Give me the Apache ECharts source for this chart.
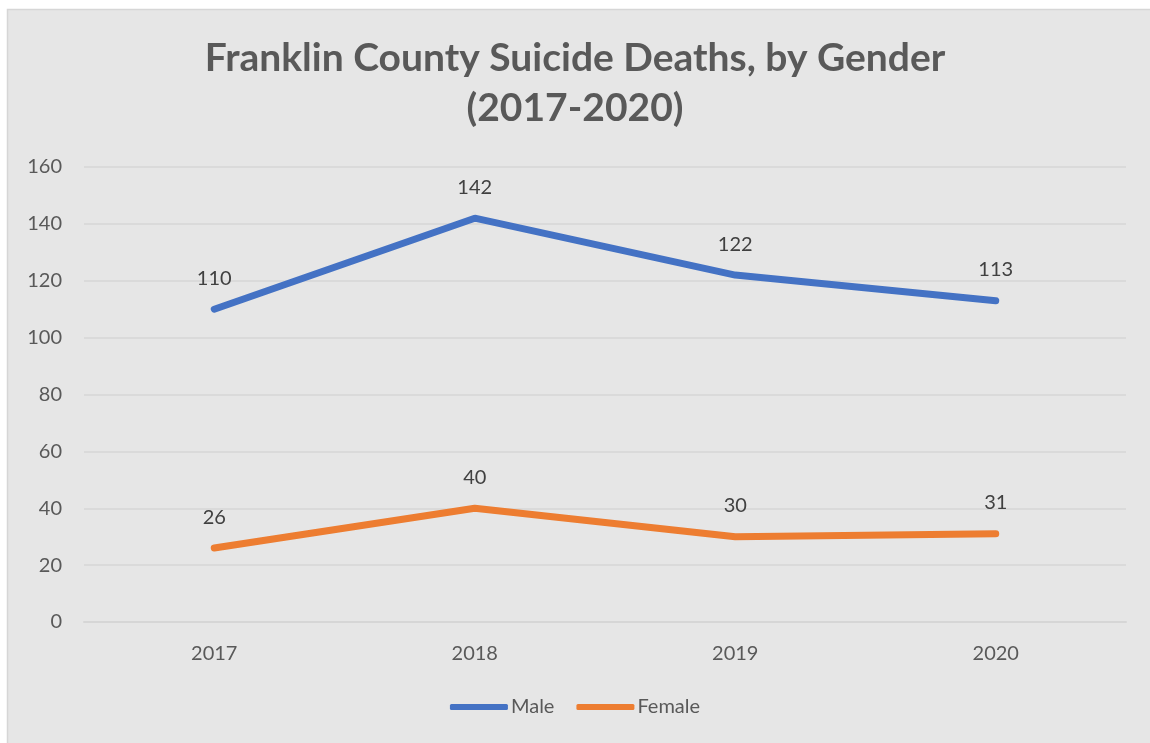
<!DOCTYPE html>
<html><head><meta charset="utf-8">
<script src="https://cdn.jsdelivr.net/npm/echarts@6/dist/echarts.min.js"></script>
<style>html,body{margin:0;padding:0;background:#fff;}#c{width:1150px;height:743px;}</style>
</head><body><div id="c"></div>
<script>
const years = ['2017','2018','2019','2020'];
const male = [110, 142, 122, 113];
const female = [26, 40, 30, 31];
const yTicks = [0, 20, 40, 60, 80, 100, 120, 140, 160];

const chart = echarts.init(document.getElementById('c'));
const font = 'Lato, "Open Sans", sans-serif';
const lbl = { show: true, position: 'top', distance: 21, fontFamily: font, fontSize: 20, color: '#404040' };
chart.setOption({
  backgroundColor: '#ffffff',
  animation: false,
  graphic: [{
    type: 'rect', z: -10, silent: true,
    shape: { x: 7.5, y: 9.5, width: 1160, height: 760 },
    style: { fill: '#e6e6e6', stroke: '#d6d6d6', lineWidth: 1.5 }
  }],
  title: {
    text: 'Franklin County Suicide Deaths, by Gender\n(2017-2020)',
    left: 'center', top: 28,
    textStyle: { fontFamily: font, fontSize: 39, fontWeight: 'bold', color: '#595959', lineHeight: 50 }
  },
  legend: {
    bottom: 21, left: 'center',
    itemWidth: 58, itemHeight: 6, itemGap: 22,
    textStyle: { fontFamily: font, fontSize: 20, color: '#595959', padding: [0, 0, 0, -2] },
    data: [
      { name: 'Male', icon: 'roundRect' },
      { name: 'Female', icon: 'roundRect' }
    ]
  },
  grid: { left: 84, right: 24, top: 167, bottom: 121 },
  xAxis: {
    type: 'category', data: years, boundaryGap: true,
    axisLine: { show: true, lineStyle: { color: '#d6d6d6', width: 2 } },
    axisTick: { show: false },
    axisLabel: { fontFamily: font, fontSize: 20, color: '#595959', margin: 22 }
  },
  yAxis: {
    type: 'value', min: yTicks[0], max: yTicks[yTicks.length-1], interval: 20,
    axisLine: { show: false }, axisTick: { show: false },
    splitLine: { lineStyle: { color: '#d6d6d6', width: 1.5 } },
    axisLabel: { fontFamily: font, fontSize: 20, color: '#595959', margin: 22, align: 'right' }
  },
  series: [
    {
      name: 'Male', type: 'line', data: male, color: '#4472C4',
      symbol: 'circle', symbolSize: 0, showSymbol: true,
      itemStyle: { color: '#4472C4' },
      lineStyle: { width: 7, color: '#4472C4', cap: 'round' },
      label: lbl
    },
    {
      name: 'Female', type: 'line', data: female, color: '#ED7D31',
      symbol: 'circle', symbolSize: 0, showSymbol: true,
      itemStyle: { color: '#ED7D31' },
      lineStyle: { width: 7, color: '#ED7D31', cap: 'round' },
      label: lbl
    }
  ]
});
</script></body></html>
